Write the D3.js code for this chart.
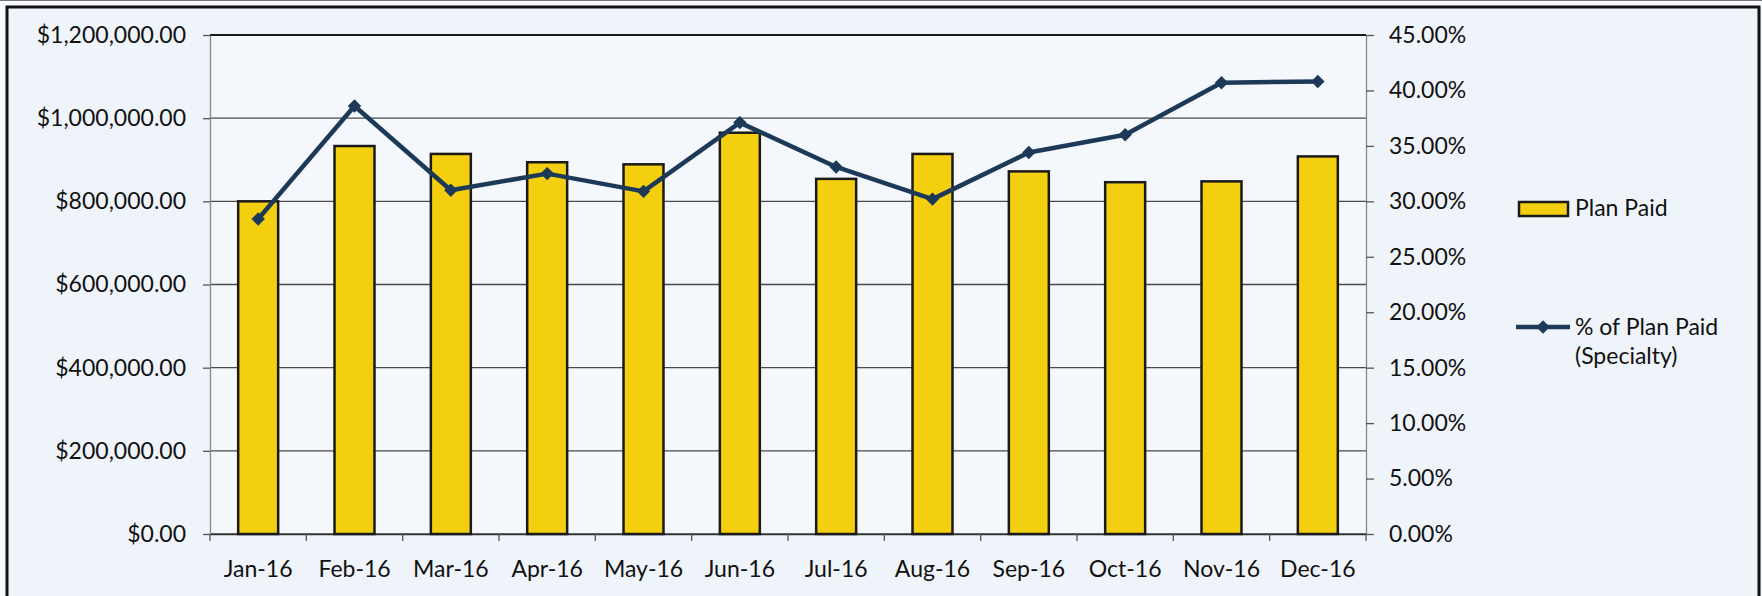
<!DOCTYPE html>
<meta charset="utf-8">
<style>

body {
  margin: 0;
  background: #fff;
}

text {
  font-family: Lato, "Open Sans", sans-serif;
  fill: #111;
}

.axis text {
  font-size: 23px;
}

.axis line {
  stroke: #555;
  stroke-width: 1.3px;
}

.bar {
  fill: #f4cf10;
  stroke: #1a1a1a;
  stroke-width: 2.5px;
}

</style>
<body>
<script src="https://d3js.org/d3.v7.min.js"></script>
<script>

var months = ["Jan-16", "Feb-16", "Mar-16", "Apr-16", "May-16", "Jun-16",
              "Jul-16", "Aug-16", "Sep-16", "Oct-16", "Nov-16", "Dec-16"];

// Plan Paid, dollars
var planPaid = [800000, 933000, 914000, 894000, 889000, 965000,
                854000, 914000, 872000, 846000, 848000, 908000];

// % of Plan Paid (Specialty)
var pctSpecialty = [0.284, 0.386, 0.310, 0.325, 0.309, 0.371,
                    0.331, 0.302, 0.344, 0.360, 0.407, 0.408];

var dollarTicks = [0, 200000, 400000, 600000, 800000, 1000000, 1200000];
var pctTicks = [0, 0.05, 0.10, 0.15, 0.20, 0.25, 0.30, 0.35, 0.40, 0.45];

var width = 1762,
    height = 596,
    plotL = 210,
    plotR = 1366,
    plotT = 35,
    plotB = 534;

var navy = "#1c3a58";

var svg = d3.select("body").append("svg")
    .attr("width", width)
    .attr("height", height);

// page + frame
svg.append("rect")
    .attr("width", width)
    .attr("height", height)
    .attr("fill", "#f6f9fd");

svg.append("line")
    .attr("x1", 0).attr("x2", width)
    .attr("y1", 0.5).attr("y2", 0.5)
    .attr("stroke", "#777");

svg.append("rect")
    .attr("x", 7).attr("y", 7)
    .attr("width", 1752).attr("height", 600)
    .attr("fill", "#eff4fa")
    .attr("stroke", "#111")
    .attr("stroke-width", 3);

svg.append("rect")
    .attr("x", plotL).attr("y", plotT)
    .attr("width", plotR - plotL).attr("height", plotB - plotT)
    .attr("fill", "#f4f7fc");

var x = d3.scaleBand()
    .domain(months)
    .range([plotL, plotR]);

var y = d3.scaleLinear()
    .domain([0, 1200000])
    .range([plotB, plotT]);

var yR = d3.scaleLinear()
    .domain([0, 0.45])
    .range([plotB, plotT]);

var barWidth = x.bandwidth() * 0.415;

function cx(m) { return x(m) + x.bandwidth() / 2; }

// gridlines
svg.append("g")
  .selectAll("line")
  .data(dollarTicks)
  .join("line")
    .attr("x1", plotL).attr("x2", plotR)
    .attr("y1", d => y(d)).attr("y2", d => y(d))
    .attr("stroke", d => d == 1200000 ? "#1a1a1a" : "#4a4a4a")
    .attr("stroke-width", d => d == 1200000 ? 2 : 1.4);

// axes
var gl = svg.append("g")
    .attr("class", "axis")
    .attr("transform", "translate(" + plotL + ",0)")
    .call(d3.axisLeft(y)
      .tickValues(dollarTicks)
      .tickFormat(d3.format("$,.2f"))
      .tickSize(7)
      .tickSizeOuter(0)
      .tickPadding(17));
gl.select(".domain").attr("stroke", "#888").attr("stroke-width", 1.3);

var gr = svg.append("g")
    .attr("class", "axis")
    .attr("transform", "translate(" + plotR + ",0)")
    .call(d3.axisRight(yR)
      .tickValues(pctTicks)
      .tickFormat(d3.format(".2%"))
      .tickSize(8)
      .tickSizeOuter(0)
      .tickPadding(15));
gr.select(".domain").attr("stroke", "#888").attr("stroke-width", 1.3);

var gx = svg.append("g")
    .attr("class", "axis")
    .attr("transform", "translate(0," + plotB + ")")
    .call(d3.axisBottom(x)
      .tickSize(0)
      .tickPadding(27));
gx.select(".domain").attr("stroke", "#333").attr("stroke-width", 1.6);

gx.selectAll(".edge")
  .data(months.concat([null]))
  .join("line")
    .attr("class", "edge")
    .attr("x1", d => d ? x(d) : plotR)
    .attr("x2", d => d ? x(d) : plotR)
    .attr("y1", 0).attr("y2", 7);

// bars
svg.append("g")
  .selectAll("rect")
  .data(months)
  .join("rect")
    .attr("class", "bar")
    .attr("x", (d) => cx(d) - barWidth / 2)
    .attr("y", (d, i) => y(planPaid[i]))
    .attr("width", barWidth)
    .attr("height", (d, i) => plotB - y(planPaid[i]));

// line
var line = d3.line()
    .x((d, i) => cx(months[i]))
    .y((d) => yR(d));

svg.append("path")
    .datum(pctSpecialty)
    .attr("fill", "none")
    .attr("stroke", navy)
    .attr("stroke-width", 4.5)
    .attr("stroke-linejoin", "round")
    .attr("d", line);

var diamond = d3.symbol().type(d3.symbolSquare).size(90);

svg.append("g")
  .selectAll("path")
  .data(pctSpecialty)
  .join("path")
    .attr("transform", (d, i) => "translate(" + cx(months[i]) + "," + yR(d) + ") rotate(45)")
    .attr("d", diamond)
    .attr("fill", navy);

// legend
var lg = svg.append("g").attr("font-size", "23px");

lg.append("rect")
    .attr("class", "bar")
    .attr("x", 1519).attr("y", 202)
    .attr("width", 49).attr("height", 14);

lg.append("text")
    .attr("x", 1575).attr("y", 216)
    .text("Plan Paid");

lg.append("line")
    .attr("x1", 1516).attr("x2", 1570)
    .attr("y1", 327).attr("y2", 327)
    .attr("stroke", navy)
    .attr("stroke-width", 4.5);

lg.append("path")
    .attr("transform", "translate(1543,327) rotate(45)")
    .attr("d", diamond)
    .attr("fill", navy);

lg.append("text")
    .attr("x", 1575).attr("y", 335)
    .text("% of Plan Paid");

lg.append("text")
    .attr("x", 1575).attr("y", 364)
    .text("(Specialty)");

</script>
